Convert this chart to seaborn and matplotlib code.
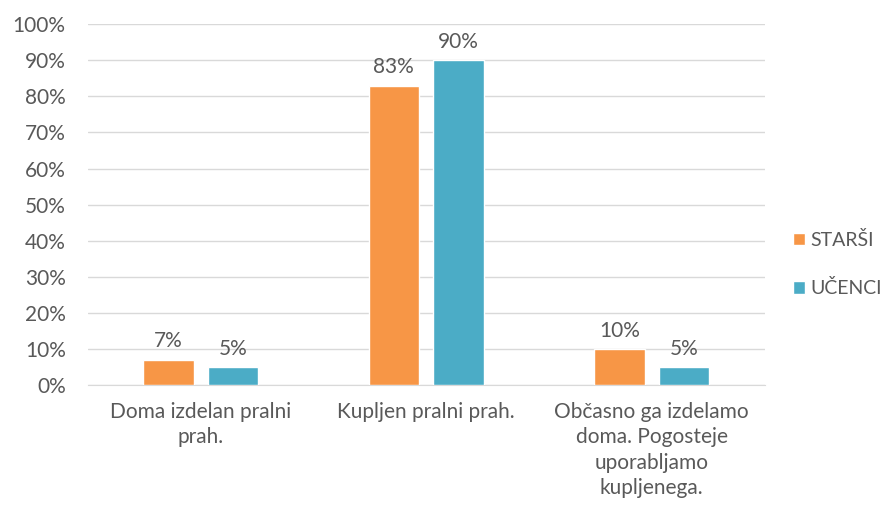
import pandas as pd
import seaborn as sns
import matplotlib.pyplot as plt
from matplotlib.patches import Patch

sns.set_style("white")
plt.rcParams['font.family'] = ['Lato', 'DejaVu Sans']

# Data
categories = ["Doma izdelan pralni\nprah.", "Kupljen pralni prah.",
              "Občasno ga izdelamo\ndoma. Pogosteje\nuporabljamo\nkupljenega."]
starsi = [7, 83, 10]
ucenci = [5, 90, 5]
groups = ["STARŠI", "UČENCI"]
colors = ["#F79646", "#4BACC6"]
yticks = list(range(0, 101, 10))

df = pd.DataFrame({
    "cat": categories * 2,
    "group": [groups[0]] * 3 + [groups[1]] * 3,
    "value": starsi + ucenci,
})

fig = plt.figure(figsize=(8.88, 5.16), dpi=100)
ax = fig.add_axes([0.099, 0.254, 0.762, 0.699])

sns.barplot(data=df, x="cat", y="value", hue="group", palette=colors,
            saturation=1, width=0.574, gap=0.22, ax=ax, legend=False, zorder=3)

text_color = "#595959"
fs = 15
for container in ax.containers:
    ax.bar_label(container, labels=[f"{v:.0f}%" for v in container.datavalues],
                 padding=6, fontsize=fs, color=text_color)

ax.set_ylim(0, 100)
ax.set_xlim(-0.5, 2.5)
ax.set_yticks(yticks)
ax.set_yticklabels([f"{t}%" for t in yticks])
ax.yaxis.grid(True, color="#D9D9D9", linewidth=1, zorder=0)
ax.tick_params(axis="both", length=0, labelsize=fs, labelcolor=text_color)
ax.tick_params(axis="x", pad=12)
ax.tick_params(axis="y", pad=16)
for lbl in ax.get_xticklabels():
    lbl.set_linespacing(1.35)
ax.set_xlabel("")
ax.set_ylabel("")
for s in ["top", "right", "left"]:
    ax.spines[s].set_visible(False)
ax.spines["bottom"].set_color("#D9D9D9")

handles = [Patch(facecolor=c, label=g) for g, c in zip(groups, colors)]
fig.legend(handles=handles, loc="center left", bbox_to_anchor=(0.878, 0.488),
           frameon=False, fontsize=14, labelcolor=text_color,
           handlelength=0.6, handleheight=0.6, handletextpad=0.3,
           labelspacing=1.55, borderpad=0.2)

fig.savefig("out.png", dpi=100)
